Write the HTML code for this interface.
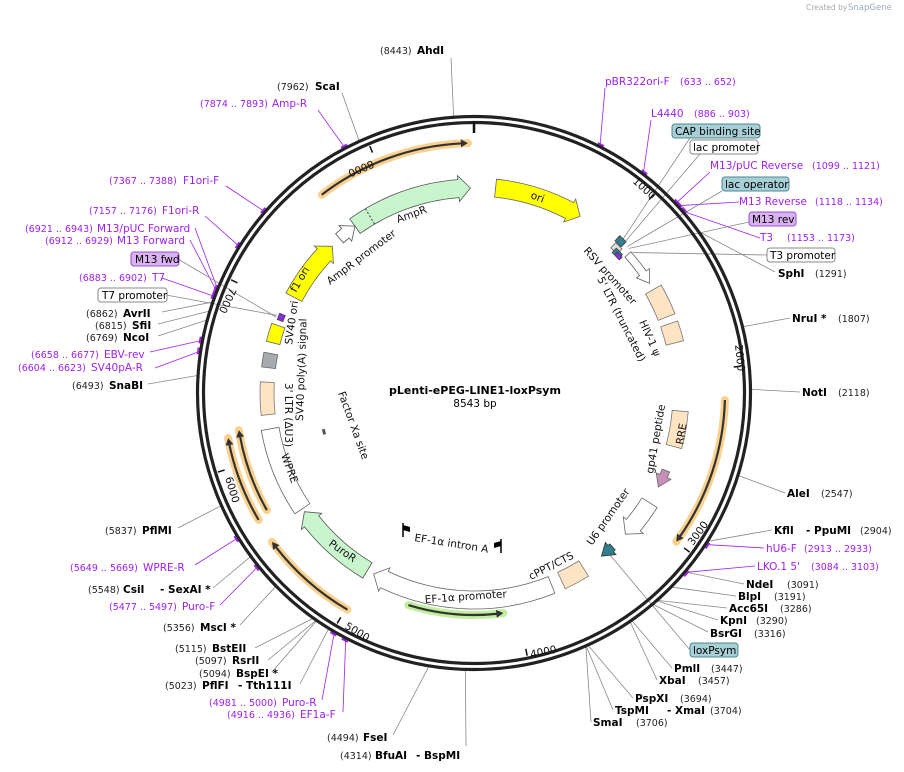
<!DOCTYPE html>
<html><head><meta charset="utf-8"><style>
html,body{margin:0;padding:0;background:#fff;width:904px;height:772px;overflow:hidden}
svg{display:block}
text{font-family:"DejaVu Sans","Liberation Sans",sans-serif;font-size:10.5px;fill:#000}
.n{font-size:9.5px;fill:#222}
.b{font-weight:bold;font-size:10.5px}
.p{fill:#a020f0}
.pn{fill:#a020f0;font-size:9.5px}
.f{font-size:10.5px;fill:#111}
</style></head><body>
<svg id="s" width="904" height="772" viewBox="0 0 904 772" xmlns="http://www.w3.org/2000/svg">
<g id="geo"></g>
<g id="lbl">
<text x="806" y="10" style="font-size:7.5px;fill:#aaa">Created by</text><text x="848" y="10" style="font-size:8.5px;fill:#9ab">SnapGene</text>

<text x="475" y="394" text-anchor="middle" style="font-weight:bold;font-size:11px">pLenti-ePEG-LINE1-loxPsym</text>
<text x="475" y="407" text-anchor="middle" style="font-size:10.5px">8543 bp</text>

<text class="n" x="380" y="54">(8443)</text><text class="b" x="417" y="54">AhdI</text>
<text class="n" x="277" y="90">(7962)</text><text class="b" x="315" y="90">ScaI</text>
<text class="pn" x="200" y="107">(7874 .. 7893)</text><text class="p" x="272" y="107">Amp-R</text>
<text class="pn" x="109" y="184">(7367 .. 7388)</text><text class="p" x="183" y="184">F1ori-F</text>
<text class="pn" x="89" y="214">(7157 .. 7176)</text><text class="p" x="162" y="214">F1ori-R</text>
<text class="pn" x="25" y="232">(6921 .. 6943)</text><text class="p" x="97" y="232">M13/pUC Forward</text>
<text class="pn" x="45" y="244">(6912 .. 6929)</text><text class="p" x="117" y="244">M13 Forward</text>
<rect x="131" y="252" width="48" height="14" rx="3" fill="#d9b3f0" stroke="#9a4fd0"/><text x="135" y="263">M13 fwd</text>
<text class="pn" x="79" y="281">(6883 .. 6902)</text><text class="p" x="152" y="281">T7</text>
<rect x="98" y="288" width="69" height="14" rx="3" fill="#fff" stroke="#888"/><text x="102" y="299">T7 promoter</text>
<text class="n" x="86" y="317">(6862)</text><text class="b" x="123" y="317">AvrII</text>
<text class="n" x="95" y="329">(6815)</text><text class="b" x="132" y="329">SfiI</text>
<text class="n" x="86" y="341">(6769)</text><text class="b" x="123" y="341">NcoI</text>
<text class="pn" x="31" y="358">(6658 .. 6677)</text><text class="p" x="104" y="358">EBV-rev</text>
<text class="pn" x="18" y="371">(6604 .. 6623)</text><text class="p" x="91" y="371">SV40pA-R</text>
<text class="n" x="72" y="389">(6493)</text><text class="b" x="109" y="389">SnaBI</text>

<text class="p" x="605" y="85">pBR322ori-F</text><text class="pn" x="680" y="85">(633 .. 652)</text>
<text class="p" x="651" y="117">L4440</text><text class="pn" x="694" y="117">(886 .. 903)</text>
<rect x="672" y="124" width="88" height="14" rx="3" fill="#a8cfd6" stroke="#4a8a96"/><text x="675" y="135">CAP binding site</text>
<rect x="690" y="140" width="68" height="14" rx="3" fill="#fff" stroke="#888"/><text x="693" y="151">lac promoter</text>
<text class="p" x="710" y="169">M13/pUC Reverse</text><text class="pn" x="812" y="169">(1099 .. 1121)</text>
<rect x="722" y="177" width="67" height="14" rx="3" fill="#a8cfd6" stroke="#4a8a96"/><text x="725" y="188">lac operator</text>
<text class="p" x="739" y="205">M13 Reverse</text><text class="pn" x="815" y="205">(1118 .. 1134)</text>
<rect x="749" y="212" width="47" height="14" rx="3" fill="#d9b3f0" stroke="#9a4fd0"/><text x="752" y="223">M13 rev</text>
<text class="p" x="760" y="241">T3</text><text class="pn" x="787" y="241">(1153 .. 1173)</text>
<rect x="767" y="248" width="68" height="14" rx="3" fill="#fff" stroke="#888"/><text x="770" y="259">T3 promoter</text>
<text class="b" x="778" y="277">SphI</text><text class="n" x="815" y="277">(1291)</text>
<text class="b" x="792" y="322">NruI *</text><text class="n" x="838" y="322">(1807)</text>
<text class="b" x="802" y="396">NotI</text><text class="n" x="838" y="396">(2118)</text>
<text class="b" x="787" y="497">AleI</text><text class="n" x="821" y="497">(2547)</text>
<text class="b" x="774" y="534">KflI</text><text class="b" x="806" y="534">- PpuMI</text><text class="n" x="860" y="534">(2904)</text>
<text class="p" x="766" y="552">hU6-F</text><text class="pn" x="804" y="552">(2913 .. 2933)</text>
<text class="p" x="757" y="570">LKO.1 5'</text><text class="pn" x="811" y="570">(3084 .. 3103)</text>
<text class="b" x="746" y="588">NdeI</text><text class="n" x="787" y="588">(3091)</text>
<text class="b" x="738" y="600">BlpI</text><text class="n" x="774" y="600">(3191)</text>
<text class="b" x="729" y="612">Acc65I</text><text class="n" x="780" y="612">(3286)</text>
<text class="b" x="720" y="624">KpnI</text><text class="n" x="756" y="624">(3290)</text>
<text class="b" x="710" y="637">BsrGI</text><text class="n" x="754" y="637">(3316)</text>
<rect x="690" y="643" width="48" height="14" rx="3" fill="#a8cfd6" stroke="#4a8a96"/><text x="693" y="654">loxPsym</text>
<text class="b" x="674" y="672">PmlI</text><text class="n" x="711" y="672">(3447)</text>
<text class="b" x="659" y="684">XbaI</text><text class="n" x="698" y="684">(3457)</text>
<text class="b" x="635" y="702">PspXI</text><text class="n" x="680" y="702">(3694)</text>
<text class="b" x="615" y="714">TspMI</text><text class="b" x="667" y="714">- XmaI</text><text class="n" x="710" y="714">(3704)</text>
<text class="b" x="593" y="726">SmaI</text><text class="n" x="636" y="726">(3706)</text>
<text class="n" x="327" y="741">(4494)</text><text class="b" x="363" y="741">FseI</text>
<text class="n" x="340" y="759">(4314)</text><text class="b" x="375" y="759">BfuAI</text><text class="b" x="416" y="759">- BspMI</text>

<text class="n" x="105" y="534">(5837)</text><text class="b" x="142" y="534">PflMI</text>
<text class="pn" x="70" y="571">(5649 .. 5669)</text><text class="p" x="143" y="571">WPRE-R</text>
<text class="n" x="88" y="593">(5548)</text><text class="b" x="123" y="593">CsiI</text><text class="b" x="160" y="593">- SexAI *</text>
<text class="pn" x="109" y="610">(5477 .. 5497)</text><text class="p" x="182" y="610">Puro-F</text>
<text class="n" x="163" y="631">(5356)</text><text class="b" x="200" y="631">MscI *</text>
<text class="n" x="175" y="652">(5115)</text><text class="b" x="212" y="652">BstEII</text>
<text class="n" x="195" y="664">(5097)</text><text class="b" x="232" y="664">RsrII</text>
<text class="n" x="199" y="677">(5094)</text><text class="b" x="236" y="677">BspEI *</text>
<text class="n" x="165" y="689">(5023)</text><text class="b" x="202" y="689">PflFI</text><text class="b" x="238" y="689">- Tth111I</text>
<text class="pn" x="209" y="706">(4981 .. 5000)</text><text class="p" x="282" y="706">Puro-R</text>
<text class="pn" x="227" y="718">(4916 .. 4936)</text><text class="p" x="300" y="718">EF1a-F</text>

<text class="f" transform="translate(632,182) rotate(42)">1000</text>
<text class="f" transform="translate(735,345) rotate(84)">2000</text>
<text class="f" transform="translate(693,546) rotate(-54)">3000</text>
<text class="f" transform="translate(531,658) rotate(-12)">4000</text>
<text class="f" transform="translate(344,628) rotate(31)">5000</text>
<text class="f" transform="translate(225,478) rotate(73)">6000</text>
<text class="f" transform="translate(230,287) rotate(115)">7000</text>
<text class="f" transform="translate(372,160) rotate(157)">8000</text>

<text class="f" transform="translate(398,223) rotate(-20)">AmpR</text>
<text class="f" transform="translate(330,285) rotate(-37)">AmpR promoter</text>
<text class="f" transform="translate(296,293) rotate(-60)">f1 ori</text>
<text class="f" transform="translate(530,198) rotate(20)">ori</text>
<text class="f" transform="translate(583,251) rotate(48)">RSV promoter</text>
<text class="f" transform="translate(597,279) rotate(63)">5' LTR (truncated)</text>
<text class="f" transform="translate(639,322) rotate(66)">HIV-1 ψ</text>
<text class="f" transform="translate(683,445) rotate(-80)">RRE</text>
<text class="f" transform="translate(653,474) rotate(-80)">gp41 peptide</text>
<text class="f" transform="translate(592,546) rotate(-55)">U6 promoter</text>
<text class="f" transform="translate(531,580) rotate(-27)">cPPT/CTS</text>
<text class="f" transform="translate(425,603) rotate(-4)">EF-1α promoter</text>
<text class="f" transform="translate(328,545) rotate(35)">PuroR</text>
<text class="f" transform="translate(281,455) rotate(70)">WPRE</text>
<text class="f" transform="translate(285,383) rotate(90)">3' LTR (ΔU3)</text>
<text class="f" transform="translate(303,421) rotate(-88)">SV40 poly(A) signal</text>
<text class="f" transform="translate(292,345) rotate(-82)">SV40 ori</text>
<text class="f" transform="translate(338,393) rotate(70)">Factor Xa site</text>
<text class="f" transform="translate(414,541) rotate(9)">EF-1α intron A</text>
</g>
</svg>
<script>
(function(){
var NS="http://www.w3.org/2000/svg",g=document.getElementById("geo");
var cx=474,cy=393,L=8543;
function P(r,d){var a=d*Math.PI/180;return [cx+r*Math.sin(a),cy-r*Math.cos(a)];}
function D(b){return b/L*360;}
function el(t,at){var e=document.createElementNS(NS,t);for(var k in at)e.setAttribute(k,at[k]);g.appendChild(e);return e;}
function f(p){return p[0].toFixed(1)+","+p[1].toFixed(1);}
function arc(r,d1,d2){var s=P(r,d1),e=P(r,d2);var lg=Math.abs(d2-d1)>180?1:0;var sw=d2>d1?1:0;return "M"+f(s)+" A"+r+","+r+" 0 "+lg+","+sw+" "+f(e);}
function arrow(r,w,d1,d2,fill,stroke,head){
 var hl=head?12/r*180/Math.PI:0;var ro=r+w/2,ri=r-w/2,d;
 if(head==="end"){var m=d2-hl;d="M"+f(P(ro,d1))+" A"+ro+","+ro+" 0 0,1 "+f(P(ro,m))+" L"+f(P(ro+4,m))+" L"+f(P(r,d2))+" L"+f(P(ri-4,m))+" L"+f(P(ri,m))+" A"+ri+","+ri+" 0 0,0 "+f(P(ri,d1))+" Z";}
 else if(head==="start"){var m2=d1+hl;d="M"+f(P(r,d1))+" L"+f(P(ro+4,m2))+" L"+f(P(ro,m2))+" A"+ro+","+ro+" 0 0,1 "+f(P(ro,d2))+" L"+f(P(ri,d2))+" A"+ri+","+ri+" 0 0,0 "+f(P(ri,m2))+" L"+f(P(ri-4,m2))+" Z";}
 else{d="M"+f(P(ro,d1))+" A"+ro+","+ro+" 0 0,1 "+f(P(ro,d2))+" L"+f(P(ri,d2))+" A"+ri+","+ri+" 0 0,0 "+f(P(ri,d1))+" Z";}
 el("path",{d:d,fill:fill,stroke:stroke||"#666","stroke-width":0.8});
}
function glow(r,d1,d2,col,headEnd){
 el("path",{d:arc(r,d1,d2),fill:"none",stroke:col,"stroke-width":8,"stroke-linecap":"round",opacity:0.85});
 el("path",{d:headEnd?arc(r,d1,d2-1.2):arc(r,d1+1.2,d2),fill:"none",stroke:"#333","stroke-width":2.2});
 var hd=7/r*180/Math.PI,t=headEnd?d2:d1,b=headEnd?d2-hd:d1+hd;
 el("path",{d:"M"+f(P(r,t))+" L"+f(P(r+4,b))+" L"+f(P(r-4,b))+" Z",fill:"#333"});
}
function lead(x,y,b,col,r){var p=P(r||277,D(b));el("line",{x1:x,y1:y,x2:p[0],y2:p[1],stroke:col||"#888","stroke-width":0.8});
 if(col){var q1=P(279,D(b)-0.7),q2=P(279,D(b)+0.7);el("line",{x1:q1[0],y1:q1[1],x2:q2[0],y2:q2[1],stroke:col,"stroke-width":2});}}
var PU="#a020f0";
[[451,58,8443],[342,93,7962],[162,312,6862],[158,324,6815],[158,336,6769],[148,384,6493],
 [775,272,1291],[790,318,1807],[800,392,2118],[785,493,2547],[772,530,2904],[744,584,3091],[736,596,3191],[727,608,3286],[718,620,3290],[708,632,3316],
 [672,668,3447],[657,680,3457],[633,698,3694],[613,710,3704],[591,722,3706],[393,735,4494],[466,746,4314],
 [178,528,5837],[213,588,5548],[240,625,5356],[255,648,5115],[268,660,5097],[272,672,5094],[300,684,5023]].forEach(function(a){lead(a[0],a[1],a[2]);});
[[318,110,7884],[226,186,7378],[205,216,7167],[195,228,6932],[190,240,6920],[162,278,6892],[150,352,6667],[155,368,6613],
 [605,88,642],[651,120,894],[710,172,1110],[739,202,1126],[760,238,1163],[764,548,2923],[755,566,3094],
 [195,565,5659],[220,605,5487],[322,700,4990],[343,712,4926]].forEach(function(a){lead(a[0],a[1],a[2],PU);});
[[690,138,44.2],[700,154,45],[722,191,46.3],[749,222,47],[767,255,48.5],[690,650,140],[178,259,291],[166,295,291.5]].forEach(function(a){
 var p=P(212,a[2]);el("line",{x1:a[0],y1:a[1],x2:p[0],y2:p[1],stroke:"#888","stroke-width":0.8});});
el("circle",{cx:cx,cy:cy,r:276.5,fill:"none",stroke:"#222","stroke-width":3.2});
el("circle",{cx:cx,cy:cy,r:270.5,fill:"none",stroke:"#222","stroke-width":3.2});
var z=P(270,0);el("line",{x1:z[0],y1:z[1]-1,x2:z[0],y2:z[1]+10,stroke:"#111","stroke-width":2.5});
for(var k=1000;k<=8000;k+=1000){var a=P(268,D(k)),b=P(261,D(k));el("line",{x1:a[0],y1:a[1],x2:b[0],y2:b[1],stroke:"#111","stroke-width":1.5});}
glow(250,322.5,358.6,"#f9c97a",true);
glow(251,91.6,126.3,"#f9c97a",true);
glow(250,239.5,259.6,"#f9c97a",true);
glow(238,240.5,261,"#f9c97a",true);
glow(251,210.3,233.6,"#f9c97a",true);
glow(222,172.4,197.2,"#b6ec8c",false);
arrow(205,18,324.5,359,"#c8f5cc","#555","end");
var d1=P(196,329.5),d2=P(214,329.5);el("line",{x1:d1[0],y1:d1[1],x2:d2[0],y2:d2[1],stroke:"#333","stroke-dasharray":"2,2"});
arrow(205,12,319,324.5,"#fff","#555","end");
arrow(204,18,298,316,"#ffff00","#666","end");
arrow(206,18,6,31,"#ffff00","#666","end");
arrow(211,7,42.8,45.2,"#2f7f8f","#444");
arrow(203,7,43.3,45.8,"#ddd","#666");
arrow(200,6,44.5,47,"#2f7f8f","#444");
arrow(199,4,45.5,47.5,"#8a2be2","#444");
arrow(207,8,48,58,"#fff","#666","end");
arrow(207,18,60,68.5,"#ffe4c4","#777");
arrow(207,18,70.5,76,"#ffe4c4","#777");
arrow(207,16,95,105,"#ffe4c4","#777");
arrow(207,8,112,117,"#c890b8","#666","end");
arrow(207,18,122,133,"#fff","#666","end");
arrow(207,8,138,142,"#2f7f8f","#333","end");
arrow(207,18,148,155,"#ffe4c4","#777");
arrow(207,18,158,209,"#fff","#666","end");
arrow(207,18,211,235,"#c8f5cc","#555","end");
arrow(207,18,236,260,"#fff","#666");
arrow(207,14,264,273,"#ffe4c4","#777");
arrow(207,14,277,281,"#a7abb0","#666");
arrow(207,14,284,289,"#ffff00","#666");
arrow(207,6,290.5,292.3,"#8a2be2","#444");
var m=P(155,254.5),n=P(155,256.5);el("line",{x1:m[0],y1:m[1],x2:n[0],y2:n[1],stroke:"#555","stroke-width":3});
[[403,530],[501,546]].forEach(function(q,i){el("line",{x1:q[0],y1:q[1]-7,x2:q[0],y2:q[1]+7,stroke:"#000","stroke-width":1.5});
 el("path",{d:"M"+q[0]+","+(q[1]-5)+" l"+(i?-7:7)+",2 l0,5 l"+(i?7:-7)+",-2 Z",fill:"#000"});});
})();
</script>
</body></html>
